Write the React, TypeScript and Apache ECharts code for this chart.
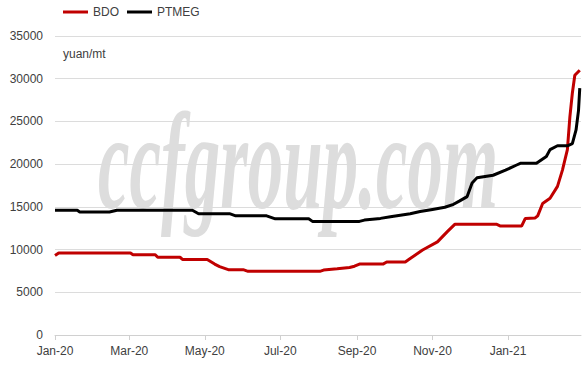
import React, { useEffect, useRef } from "react";
import * as echarts from "echarts";

const bdoDates = [
  "2020-01-01", "2020-01-04", "2020-03-02", "2020-03-04", "2020-03-22", "2020-03-24",
  "2020-04-11", "2020-04-13", "2020-05-03", "2020-05-09", "2020-05-13", "2020-05-20",
  "2020-06-01", "2020-06-05", "2020-08-02", "2020-08-05", "2020-08-16", "2020-08-26",
  "2020-08-30", "2020-09-03", "2020-09-22", "2020-09-25", "2020-10-10", "2020-10-14",
  "2020-10-24", "2020-11-05", "2020-11-13", "2020-11-19", "2020-12-23", "2020-12-26",
  "2021-01-12", "2021-01-15", "2021-01-23", "2021-01-25", "2021-01-29", "2021-02-04",
  "2021-02-10", "2021-02-14", "2021-02-18", "2021-02-20", "2021-02-22", "2021-02-24",
  "2021-02-28",
];
const bdoValues = [
  9300, 9600, 9600, 9400, 9400, 9100,
  9100, 8850, 8850, 8300, 8000, 7650,
  7650, 7450, 7450, 7600, 7750, 7900,
  8050, 8300, 8300, 8550, 8550, 8950,
  9950, 10900, 12100, 12950, 12950, 12750,
  12750, 13650, 13700, 13950, 15400, 16000,
  17400, 19300, 21700, 25500, 28300, 30400,
  31000,
];

const ptmegDates = [
  "2020-01-01", "2020-01-19", "2020-01-21", "2020-02-14", "2020-02-20", "2020-04-21",
  "2020-04-26", "2020-05-21", "2020-05-26", "2020-06-20", "2020-06-27", "2020-07-24",
  "2020-07-27", "2020-09-03", "2020-09-07", "2020-09-20", "2020-09-28", "2020-10-14",
  "2020-10-22", "2020-11-01", "2020-11-11", "2020-11-18", "2020-11-23", "2020-11-29",
  "2020-12-03", "2020-12-07", "2020-12-20", "2020-12-30", "2021-01-08", "2021-01-11",
  "2021-01-24", "2021-02-01", "2021-02-04", "2021-02-10", "2021-02-18", "2021-02-22",
  "2021-02-25", "2021-02-27", "2021-02-28",
];
const ptmegValues = [
  14600, 14600, 14400, 14400, 14600, 14600,
  14200, 14200, 13950, 13950, 13600, 13600,
  13300, 13300, 13450, 13650, 13850, 14200,
  14450, 14700, 14950, 15300, 15700, 16200,
  17800, 18400, 18700, 19300, 19900, 20100,
  20100, 20900, 21700, 22150, 22150, 22400,
  24000, 26300, 28900,
];

const monthTicks = ["2020-01-01", "2020-03-01", "2020-05-01", "2020-07-01", "2020-09-01", "2020-11-01", "2021-01-01"];
const monthNames = ["Jan", "Feb", "Mar", "Apr", "May", "Jun", "Jul", "Aug", "Sep", "Oct", "Nov", "Dec"];

const toTs = (s: string) => {
  const [y, m, d] = s.split("-").map(Number);
  return Date.UTC(y, m - 1, d);
};

export default function App() {
  const ref = useRef<HTMLDivElement>(null);
  useEffect(() => {
    if (!ref.current) return;
    const chart = echarts.init(ref.current, null, { renderer: "svg" });
    const tickTs = monthTicks.map(toTs);
    const font = "'Liberation Sans', Arial, sans-serif";
    chart.setOption({
      animation: false,
      backgroundColor: "#ffffff",
      textStyle: { fontFamily: font },
      graphic: [
        {
          type: "text",
          x: 98,
          y: 162,
          scaleX: 0.71,
          scaleY: 1.37,
          z: -1,
          silent: true,
          style: {
            text: "ccfgroup.com",
            font: "italic bold 100px 'Liberation Serif', 'DejaVu Serif', serif",
            fill: "#dddddd",
            align: "left",
            verticalAlign: "middle",
          },
        },
        {
          type: "text",
          left: 63,
          top: 48,
          style: { text: "yuan/mt", font: `12px ${font}`, fill: "#404040" },
        },
      ],
      legend: {
        top: 1,
        left: 58,
        itemGap: 8,
        itemWidth: 25,
        itemHeight: 3,
        icon: "rect",
        textStyle: { fontSize: 12, color: "#404040", fontFamily: font },
        data: ["BDO", "PTMEG"],
      },
      grid: { left: 55, right: 1, top: 36, bottom: 34, containLabel: false },
      xAxis: {
        type: "value",
        min: toTs("2020-01-01"),
        max: toTs("2021-03-01"),
        axisLine: { show: true, lineStyle: { color: "#d0d0d0", width: 1 } },
        axisTick: { show: true, customValues: tickTs, length: 5, lineStyle: { color: "#d0d0d0" } },
        splitLine: { show: false },
        axisLabel: {
          customValues: tickTs,
          color: "#404040",
          fontSize: 12,
          margin: 10,
          fontFamily: font,
          formatter: (v: number) => {
            const d = new Date(v);
            return monthNames[d.getUTCMonth()] + "-" + String(d.getUTCFullYear()).slice(2);
          },
        },
      },
      yAxis: {
        type: "value",
        min: 0,
        max: 35000,
        interval: 5000,
        axisLine: { show: false },
        axisTick: { show: false },
        splitLine: { lineStyle: { color: "#dcdcdc", width: 1 } },
        axisLabel: {
          color: "#404040",
          fontSize: 12,
          margin: 12,
          fontFamily: font,
          formatter: (v: number) => String(v),
        },
      },
      series: [
        {
          name: "BDO",
          type: "line",
          symbol: "none",
          z: 3,
          lineStyle: { color: "#c00000", width: 3 },
          itemStyle: { color: "#c00000" },
          data: bdoDates.map((d, i) => [toTs(d), bdoValues[i]]),
        },
        {
          name: "PTMEG",
          type: "line",
          symbol: "none",
          z: 4,
          lineStyle: { color: "#000000", width: 3 },
          itemStyle: { color: "#000000" },
          data: ptmegDates.map((d, i) => [toTs(d), ptmegValues[i]]),
        },
      ],
    });
    return () => chart.dispose();
  }, []);
  return <div ref={ref} style={{ width: 582, height: 369, position: "absolute", left: 0, top: 0 }} />;
}
